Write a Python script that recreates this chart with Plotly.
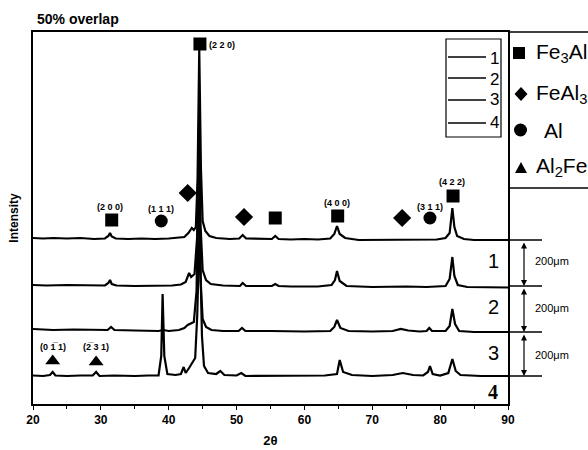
import plotly.graph_objects as go

# ---------------- data (2theta, intensity above each baseline, px-like units) ----------------
t1 = [20.0, 21.5, 23, 25, 27, 29, 30.6, 31.1, 31.35, 31.6, 32.2, 34, 36, 38, 40, 41.5, 42.3, 42.9, 43.4, 43.7,
      44.0, 44.25, 44.5, 44.75, 45.0, 45.4, 46.0, 47, 49, 50.4, 50.9, 51.4, 53, 55.2, 55.7, 56.2, 58, 60, 62,
      63.8, 64.4, 64.8, 65.2, 66, 68, 70, 72, 74, 76, 78, 79.5, 80.8, 81.4, 81.8, 82.1, 82.5, 83.5, 85, 88, 90]
i1 = [1, 0.5, 1, 0.5, 1, 0, 0.5, 3, 6, 2.5, 0.5, 0, 0.5, 0, 0.5, 1, 2, 6, 11, 9,
      12, 60, 190, 70, 18, 8, 3, 1, 0, 0.5, 4, 0.5, 0, 0, 3, 0, -0.5, 0, -0.5,
      0.5, 5, 13, 5, 1, -1, -1, -0.5, -1, -1, -1, -0.5, 1, 6, 31, 12, 3, 0, -1, -1, -1]

t2 = [20, 22, 25, 28, 30.6, 31.1, 31.35, 31.6, 32.3, 35, 38, 40.5, 41.8, 42.5, 43.0, 43.3, 43.8, 44.2, 44.45,
      44.7, 45.0, 45.5, 46.2, 48, 50.5, 50.9, 51.4, 55.2, 55.7, 56.2, 58, 62, 64.0, 64.5, 64.8, 65.2, 66.2, 70,
      75, 78, 80.8, 81.4, 81.8, 82.1, 82.6, 84, 90]
i2 = [1, 0.5, 1, 0.5, 0.5, 3, 6, 2, 0.5, 0, 0.5, 0.5, 1.5, 4, 13, 9, 12, 50, 160,
      60, 16, 6, 2, 0.5, 0, 3, 0, 0, 2, 0, -0.5, -0.5, 1, 6, 15, 5, 0, -1,
      -0.5, -1, 0, 7, 29, 10, 1, -1, -1.5]

t3 = [20, 23, 26, 29, 31.0, 31.5, 32, 35, 38.5, 39.2, 40, 41.5, 42.3, 42.8, 43.3, 43.7, 44.1, 44.4, 44.7,
      45.0, 45.5, 46.3, 48, 50.3, 50.8, 51.3, 55, 60, 63.8, 64.4, 64.8, 65.3, 66.5, 70, 73, 74.2, 75.3, 77,
      78.0, 78.4, 78.8, 80.8, 81.4, 81.8, 82.2, 82.8, 85, 90]
i3 = [2, 1, 1.5, 1, 1, 4, 1, 0.5, 0, 1, 0, 1, 3, 6, 8, 9, 40, 170, 50,
      12, 4, 1, 0, 0, 3, 0, 0, -0.5, 0, 4, 11, 3, 0, -0.5, 0, 2, 0.5, -0.5,
      0, 3, 0, 0, 5, 22, 7, 0, -1, -1]

t4 = [20, 21.5, 22.5, 22.9, 23.3, 25, 27, 28.8, 29.3, 29.8, 32, 35, 37, 38.5, 38.9, 39.1, 39.35, 39.8, 41,
      41.8, 42.2, 42.5, 43.0, 43.5, 43.9, 44.2, 44.55, 44.9, 45.2, 45.8, 47.0, 47.6, 48.2, 50, 50.7, 51.3, 55,
      60, 63, 64.8, 65.2, 65.7, 67, 70, 73, 74.5, 76, 77.5, 78.2, 78.5, 78.9, 80, 81.2, 81.8, 82.3, 83, 86, 90]
i4 = [0.5, 0, 1, 4, 0.5, 0, 0.5, 0.5, 4, 0, 0.5, 0, 0.5, 0.5, 20, 82, 20, 2, 1,
      2, 9, 3, 8, 14, 18, 60, 150, 40, 10, 3, 2, 5, 1, 0.5, 3, 0, 0,
      0, 0.5, 2, 16, 4, 1, 0, 1, 3, 1, 0.5, 4, 10, 2, 0.5, 3, 17, 5, 1, 0, 0]

offsets = [165, 118, 73, 28]
trace_names = ["1", "2", "3", "4"]

# phase markers (2theta, height)
fe3al_x = [31.6, 44.6, 55.7, 64.9, 81.9]
fe3al_y = [184, 360, 186, 188, 208]
feal3_x = [42.8, 51.1, 74.4]
feal3_y = [211, 187, 186]
al_x = [38.9, 78.5]
al_y = [183, 186]
al2fe_x = [22.9, 29.3]
al2fe_y = [43, 42]

hkl_text = ["(2 0 0)", "(1 1 1)", "(2 2 0)", "(4 0 0)", "(3 1 1)", "(4 2 2)", "(0 1\u0305 1)", "(2\u0305 3 1)"]
hkl_x = [31.35, 38.9, 47.9, 64.8, 78.5, 81.8, 22.9, 29.3]
hkl_y = [197, 195, 359, 201, 197, 222, 57, 57]

xticks = [20, 30, 40, 50, 60, 70, 80, 90]

# ---------------- layout helpers ----------------
L, R, T, B = 33, 508, 32, 404
def PX(px):
    return (px - L) / (R - L)
def PY(py):
    return (B - py) / (B - T)

fig = go.Figure()
for tt, ii, off in zip([t1, t2, t3, t4], [i1, i2, i3, i4], offsets):
    fig.add_trace(go.Scatter(x=tt, y=[v + off for v in ii], mode="lines",
                             line=dict(color="black", width=2.2), showlegend=False, hoverinfo="skip"))

for xs, ys, sym, sz in [(fe3al_x, fe3al_y, "square", 13), (feal3_x, feal3_y, "diamond", 14),
                        (al_x, al_y, "circle", 13), (al2fe_x, al2fe_y, "triangle-up", 13)]:
    fig.add_trace(go.Scatter(x=xs, y=ys, mode="markers", cliponaxis=False,
                             marker=dict(symbol=sym, size=sz, color="black"), showlegend=False, hoverinfo="skip"))

ann = []
for t, x, y in zip(hkl_text, hkl_x, hkl_y):
    ann.append(dict(x=x, y=y, xref="x", yref="y", xanchor="center", yanchor="middle",
                    text="<b>" + t + "</b>", showarrow=False,
                    font=dict(size=9, color="black", family="Liberation Sans")))

# title
ann.append(dict(x=PX(35), y=PY(19), xref="paper", yref="paper", xanchor="left", yanchor="middle",
                text="<b>50% overlap</b>", showarrow=False, font=dict(size=14, color="black")))
# trace labels
for name, py in zip(trace_names, [261, 307, 353, 392]):
    ann.append(dict(x=PX(493), y=PY(py), xref="paper", yref="paper", xanchor="center", yanchor="middle",
                    text=("<b>4</b>" if name == "4" else name),
                    showarrow=False, font=dict(size=20, color="black",
                                               family=("Liberation Serif" if name == "4" else "Liberation Sans"))))
# line legend labels
for name, py in zip(trace_names, [58, 79, 100, 122]):
    ann.append(dict(x=PX(494), y=PY(py), xref="paper", yref="paper", xanchor="center", yanchor="middle",
                    text=name, showarrow=False, font=dict(size=17, color="black")))
# symbol legend texts
for txt, px, py in [("Fe<sub>3</sub>Al", 534, 53), ("FeAl<sub>3</sub>", 534, 94),
                    ("Al", 542, 130), ("Al<sub>2</sub>Fe", 534, 167)]:
    ann.append(dict(x=PX(px), y=PY(py), xref="paper", yref="paper", xanchor="left", yanchor="middle",
                    text=txt, showarrow=False, font=dict(size=21, color="black")))
# scale bars
for py0, py1, pyt in [(240, 286, 261), (286, 332, 308), (332, 376, 355)]:
    ann.append(dict(x=PX(524), y=PY(py1), xref="paper", yref="paper", ax=0, ay=-(py1 - py0) + 1,
                    text="", showarrow=True, arrowhead=2, startarrowhead=2, arrowside="end+start",
                    arrowsize=1, arrowwidth=1.2, arrowcolor="black"))
    ann.append(dict(x=PX(533), y=PY(pyt), xref="paper", yref="paper", xanchor="left", yanchor="middle",
                    text="200μm", showarrow=False, font=dict(size=11, color="black")))

shapes = []
line_k = dict(color="black", width=1.5)
# top line extension and symbol legend box
shapes.append(dict(type="line", xref="paper", yref="paper", x0=PX(508), x1=PX(590), y0=PY(32), y1=PY(32), line=line_k))
shapes.append(dict(type="line", xref="paper", yref="paper", x0=PX(508), x1=PX(590), y0=PY(188), y1=PY(188), line=line_k))
# line legend box
shapes.append(dict(type="rect", xref="paper", yref="paper", x0=PX(446), x1=PX(501), y0=PY(39), y1=PY(137),
                   line=dict(color="black", width=1.2)))
for py in [57, 78, 100, 123]:
    shapes.append(dict(type="line", xref="paper", yref="paper", x0=PX(448), x1=PX(486), y0=PY(py), y1=PY(py),
                       line=dict(color="black", width=1.3)))
# symbol legend glyphs
shapes.append(dict(type="rect", xref="paper", yref="paper", x0=PX(513), x1=PX(525), y0=PY(47), y1=PY(59),
                   fillcolor="black", line=dict(width=0)))
shapes.append(dict(type="path", xref="paper", yref="paper",
                   path=f"M {PX(521)} {PY(87)} L {PX(527.5)} {PY(94)} L {PX(521)} {PY(101)} L {PX(514.5)} {PY(94)} Z",
                   fillcolor="black", line=dict(width=0)))
shapes.append(dict(type="circle", xref="paper", yref="paper", x0=PX(514), x1=PX(527), y0=PY(123.5), y1=PY(136.5),
                   fillcolor="black", line=dict(width=0)))
shapes.append(dict(type="path", xref="paper", yref="paper",
                   path=f"M {PX(515)} {PY(173)} L {PX(527)} {PY(173)} L {PX(521)} {PY(162)} Z",
                   fillcolor="black", line=dict(width=0)))
# scale bar horizontal ticks
for py in [240, 286, 332, 376]:
    shapes.append(dict(type="line", xref="paper", yref="paper", x0=PX(508), x1=PX(542), y0=PY(py), y1=PY(py),
                       line=dict(color="black", width=1.5)))

fig.update_layout(
    width=588, height=450,
    margin=dict(l=L, r=588 - R, t=T, b=450 - B, autoexpand=False),
    paper_bgcolor="white", plot_bgcolor="white",
    font=dict(family="Liberation Sans, Arial, sans-serif", color="black"),
    annotations=ann, shapes=shapes, showlegend=False,
    xaxis=dict(range=[20, 90], tickvals=xticks, ticktext=[f"<b>{v}</b>" for v in xticks],
               ticks="outside", ticklen=4, tickwidth=1.2, tickcolor="black",
               minor=dict(dtick=5, ticks="outside", ticklen=3, tickcolor="black"),
               showline=True, linecolor="black", linewidth=1.5, mirror=True, automargin=False,
               showgrid=False, zeroline=False, tickfont=dict(size=12),
               title=dict(text="<b>2θ</b>", font=dict(size=13), standoff=10)),
    yaxis=dict(range=[0, 372], showticklabels=False, ticks="", showline=True, linecolor="black",
               linewidth=1.5, mirror=True, showgrid=False, zeroline=False, automargin=False,
               title=dict(text="<b>Intensity</b>", font=dict(size=12), standoff=10)),
)

fig.write_html("out.html")
